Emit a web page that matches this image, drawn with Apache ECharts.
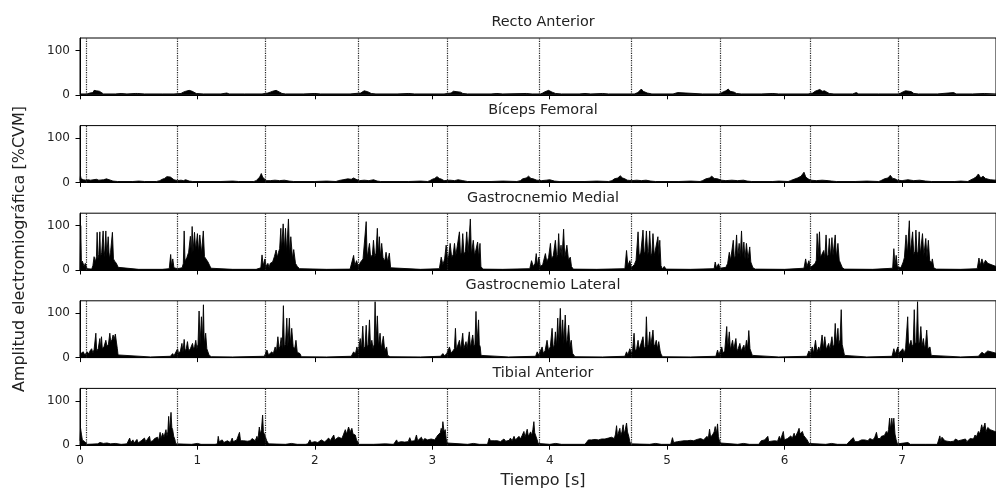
<!DOCTYPE html>
<html>
<head>
<meta charset="utf-8">
<script src="https://cdn.jsdelivr.net/npm/echarts@6/dist/echarts.min.js"></script>
<style>
  html, body { margin: 0; padding: 0; background: #fff; }
  #chart { width: 996px; height: 488px; }
</style>
</head>
<body>
<div id="chart"></div>
<script>
// EMG rectificado (% CVM), pares [tiempo s, amplitud]
const musculos = ['Recto Anterior', 'Bíceps Femoral', 'Gastrocnemio Medial', 'Gastrocnemio Lateral', 'Tibial Anterior']

// contactos de talon (lineas punteadas)
const eventos = [0.053, 0.828, 1.581, 2.367, 3.134, 3.912, 4.69, 5.448, 6.217, 6.97]

const xTicks = [0, 1, 2, 3, 4, 5, 6, 7]
const yTicks = [0, 100]

const rectoAnterior = [
  [0,2],[0.06,2],[0.085,4],[0.1,8],[0.11,5],[0.12,10],[0.13,6],[0.14,9],[0.155,7],[0.165,8],[0.18,4],[0.2,2],
  [0.3,2],[0.35,3],[0.4,2],[0.47,3],[0.48,6],[0.49,3],[0.55,2],[0.7,2],[0.8,2],
  [0.86,3],[0.88,6],[0.9,8],[0.915,7],[0.93,10],[0.945,13],[0.955,8],[0.97,7],[0.99,3],[1.05,2],
  [1.2,2],[1.25,4],[1.27,2],[1.4,2],[1.55,2],
  [1.6,4],[1.62,6],[1.64,8],[1.655,7],[1.67,10],[1.685,9],[1.7,6],[1.72,3],[1.75,2],
  [1.9,2],[2.0,3],[2.05,2],[2.3,2],
  [2.39,4],[2.405,7],[2.42,9],[2.435,11],[2.45,7],[2.465,8],[2.48,3],[2.52,2],
  [2.7,2],[2.8,3],[2.85,2],[3.1,2],
  [3.16,4],[3.18,8],[3.195,11],[3.21,7],[3.225,9],[3.24,6],[3.26,3],[3.3,2],
  [3.5,2],[3.55,3],[3.6,2],[3.8,3],[3.85,2],[3.92,2],
  [3.94,4],[3.96,7],[3.975,8],[3.99,10],[4.005,9],[4.02,6],[4.05,3],[4.1,2],
  [4.25,2],[4.3,3],[4.35,2],[4.45,3],[4.5,2],[4.72,2],
  [4.75,5],[4.765,9],[4.78,13],[4.795,8],[4.81,10],[4.83,4],[4.87,2],
  [5.05,2],[5.09,5],[5.1,2],[5.3,2],[5.44,2],
  [5.46,4],[5.48,7],[5.5,9],[5.52,13],[5.535,8],[5.55,10],[5.57,6],[5.59,3],[5.63,2],
  [5.8,2],[5.9,3],[5.95,2],[6.2,2],
  [6.24,4],[6.26,8],[6.28,10],[6.3,12],[6.32,8],[6.34,9],[6.36,6],[6.38,3],[6.42,2],
  [6.58,2],[6.61,5],[6.63,2],[6.8,2],[6.97,2],
  [6.99,4],[7.01,7],[7.03,9],[7.045,12],[7.06,8],[7.08,7],[7.1,3],[7.14,2],
  [7.3,2],[7.44,5],[7.46,2],[7.6,2],[7.7,3],[7.8,2]
]

const bicepsFemoral = [
  [0,5],[0.004,15],[0.01,8],[0.03,6],[0.05,5],[0.07,6],[0.09,5],[0.1,6],[0.14,7],[0.16,5],[0.2,6],[0.21,10],[0.225,8],[0.24,6],[0.26,5],[0.28,3],[0.32,2],
  [0.45,2],[0.5,3],[0.55,2],[0.65,2],
  [0.68,4],[0.7,7],[0.72,9],[0.74,13],[0.755,10],[0.77,12],[0.785,9],[0.8,6],[0.83,4],[0.86,5],[0.88,4],[0.9,6],[0.93,3],[0.96,2],
  [1.2,2],[1.3,3],[1.35,2],[1.48,2],
  [1.5,4],[1.515,8],[1.53,12],[1.544,20],[1.555,12],[1.57,9],[1.585,4],[1.62,4],[1.66,5],[1.7,4],[1.74,5],[1.78,3],[1.82,2],
  [2.0,2],[2.1,3],[2.18,2],
  [2.2,4],[2.24,6],[2.28,8],[2.31,7],[2.33,10],[2.35,7],[2.38,4],[2.42,5],[2.46,4],[2.5,6],[2.53,3],[2.56,2],
  [2.8,2],[2.9,3],[2.96,2],
  [2.98,4],[3.0,7],[3.02,9],[3.04,13],[3.06,9],[3.08,7],[3.1,4],[3.15,5],[3.19,4],[3.22,6],[3.26,4],[3.3,2],
  [3.5,2],[3.6,3],[3.72,2],
  [3.75,4],[3.77,8],[3.8,10],[3.82,14],[3.84,9],[3.86,8],[3.89,5],[3.93,4],[3.97,5],[4.0,6],[4.04,3],[4.08,2],
  [4.3,2],[4.4,3],[4.5,2],
  [4.53,4],[4.55,8],[4.58,10],[4.6,15],[4.62,10],[4.64,8],[4.66,5],[4.7,4],[4.74,5],[4.78,4],[4.82,5],[4.86,3],[4.9,2],
  [5.1,2],[5.2,3],[5.28,2],
  [5.3,4],[5.33,8],[5.36,10],[5.38,14],[5.4,9],[5.43,8],[5.46,5],[5.5,4],[5.55,5],[5.6,4],[5.65,5],[5.68,3],[5.72,2],
  [5.9,2],[5.95,3],[6.03,2],
  [6.05,4],[6.08,7],[6.11,10],[6.14,14],[6.165,23],[6.18,12],[6.2,8],[6.22,5],[6.27,4],[6.32,5],[6.37,4],[6.4,3],[6.44,2],
  [6.6,2],[6.7,3],[6.8,2],
  [6.82,4],[6.85,8],[6.88,10],[6.9,16],[6.92,9],[6.94,8],[6.96,5],[7.0,4],[7.05,6],[7.1,4],[7.15,5],[7.2,3],[7.25,2],
  [7.45,2],[7.5,3],[7.56,2],
  [7.58,5],[7.61,9],[7.63,12],[7.65,19],[7.67,10],[7.69,14],[7.71,9],[7.75,6],[7.8,5]
]

const gastroMedial = [
  [0,0],[0.006,100],[0.012,15],[0.02,20],[0.035,8],[0.045,15],[0.06,3],[0.1,2],
  [0.11,10],[0.12,30],[0.13,18],[0.14,30],[0.146,85],[0.152,25],[0.16,35],[0.169,86],[0.175,28],[0.185,40],[0.197,88],[0.205,30],[0.212,45],[0.22,88],[0.228,30],[0.24,75],[0.25,25],[0.26,40],[0.276,85],[0.285,25],[0.295,20],[0.31,15],[0.325,6],[0.34,2],
  [0.5,1.5],[0.7,1.5],[0.76,3],[0.772,35],[0.78,8],[0.79,25],[0.8,5],[0.83,3],[0.87,5],
  [0.88,15],[0.887,88],[0.894,20],[0.91,28],[0.925,40],[0.94,76],[0.948,35],[0.955,98],[0.962,40],[0.975,85],[0.985,45],[1.0,82],[1.01,40],[1.02,79],[1.035,38],[1.05,88],[1.06,30],[1.075,28],[1.09,18],[1.105,15],[1.115,4],[1.13,2],
  [1.3,1.5],[1.5,1.5],[1.54,5],[1.55,34],[1.56,10],[1.575,25],[1.585,8],[1.6,15],[1.61,5],
  [1.62,15],[1.64,18],[1.655,30],[1.67,45],[1.68,28],[1.69,40],[1.7,48],[1.71,94],[1.717,45],[1.73,104],[1.74,45],[1.75,94],[1.76,40],[1.775,115],[1.785,35],[1.795,75],[1.81,25],[1.82,46],[1.835,15],[1.85,8],[1.87,3],
  [2.1,1.5],[2.3,2],[2.33,33],[2.34,10],[2.355,21],[2.37,8],[2.38,12],
  [2.39,18],[2.41,25],[2.425,28],[2.437,109],[2.445,28],[2.455,32],[2.465,60],[2.475,28],[2.49,35],[2.499,67],[2.51,30],[2.52,38],[2.532,94],[2.54,35],[2.549,75],[2.558,30],[2.569,60],[2.58,28],[2.595,20],[2.606,40],[2.62,18],[2.634,38],[2.645,5],[2.66,2],
  [2.9,1.5],[3.06,3],[3.076,29],[3.09,12],[3.105,25],[3.118,56],[3.13,22],[3.14,32],[3.152,60],[3.165,28],[3.178,35],[3.189,60],[3.2,32],[3.215,36],[3.231,86],[3.24,35],[3.25,40],[3.259,82],[3.27,35],[3.282,42],[3.293,86],[3.305,38],[3.315,42],[3.324,115],[3.333,35],[3.349,67],[3.36,32],[3.375,35],[3.386,63],[3.395,28],[3.406,60],[3.414,8],[3.43,2],
  [3.6,1.5],[3.83,3],[3.845,21],[3.86,8],[3.875,15],[3.885,37],[3.895,10],[3.907,29],[3.92,8],[3.94,12],[3.963,37],[3.975,18],[3.99,28],[4.006,60],[4.015,25],[4.03,32],[4.048,67],[4.06,28],[4.068,35],[4.076,82],[4.085,32],[4.096,56],[4.105,30],[4.118,92],[4.128,28],[4.146,56],[4.16,22],[4.175,29],[4.185,8],[4.2,2],
  [4.4,1.5],[4.64,3],[4.654,44],[4.665,10],[4.682,21],[4.695,5],[4.72,12],[4.735,22],[4.752,86],[4.762,32],[4.775,38],[4.794,90],[4.805,35],[4.812,42],[4.823,88],[4.835,35],[4.842,42],[4.851,88],[4.862,32],[4.87,38],[4.879,82],[4.89,32],[4.905,35],[4.921,75],[4.93,32],[4.937,67],[4.947,10],[4.96,2],[4.975,8],[4.99,2],
  [5.2,1.5],[5.4,3],[5.409,18],[5.42,5],[5.437,14],[5.45,4],[5.5,6],[5.515,15],[5.529,40],[5.54,22],[5.55,25],[5.563,67],[5.572,25],[5.58,32],[5.591,79],[5.6,28],[5.613,60],[5.622,28],[5.633,88],[5.642,28],[5.653,63],[5.663,25],[5.675,60],[5.688,25],[5.703,52],[5.712,18],[5.72,21],[5.73,5],[5.75,2],
  [6.0,1.5],[6.165,4],[6.179,25],[6.19,8],[6.207,21],[6.22,6],[6.24,10],[6.26,15],[6.27,22],[6.277,82],[6.285,28],[6.297,86],[6.305,28],[6.32,32],[6.333,44],[6.343,28],[6.353,79],[6.362,28],[6.372,35],[6.381,71],[6.39,28],[6.403,73],[6.412,32],[6.42,35],[6.431,79],[6.44,28],[6.454,60],[6.465,22],[6.482,25],[6.492,5],[6.51,2],
  [6.75,1.5],[6.92,4],[6.93,48],[6.94,10],[6.95,33],[6.96,8],[6.99,5],[7.01,18],[7.02,28],[7.034,79],[7.045,35],[7.062,111],[7.07,38],[7.08,42],[7.09,86],[7.1,35],[7.11,42],[7.118,90],[7.128,35],[7.137,42],[7.146,86],[7.155,35],[7.165,38],[7.174,82],[7.185,32],[7.202,71],[7.212,28],[7.224,67],[7.235,22],[7.25,15],[7.258,25],[7.27,5],[7.29,2],
  [7.5,1.5],[7.64,3],[7.655,27],[7.665,10],[7.68,25],[7.695,12],[7.71,22],[7.73,15],[7.8,8]
]

const gastroLateral = [
  [0,5],[0.01,10],[0.028,13],[0.04,6],[0.05,10],[0.062,13],[0.075,8],[0.085,15],[0.099,20],[0.11,10],[0.12,18],[0.135,55],[0.142,15],[0.155,20],[0.169,43],[0.175,20],[0.183,47],[0.19,20],[0.205,25],[0.22,39],[0.23,25],[0.242,30],[0.254,55],[0.262,35],[0.272,40],[0.282,51],[0.29,40],[0.301,53],[0.31,35],[0.318,20],[0.324,6],[0.34,2],
  [0.6,1.5],[0.77,3],[0.789,9],[0.8,4],[0.815,8],[0.831,20],[0.84,8],[0.855,15],[0.868,32],[0.877,12],[0.887,41],[0.895,15],[0.905,20],[0.915,36],[0.925,15],[0.94,20],[0.958,32],[0.968,18],[0.976,25],[0.986,39],[0.995,20],[1.005,30],[1.014,105],[1.022,30],[1.034,92],[1.042,35],[1.051,119],[1.058,30],[1.07,55],[1.08,20],[1.093,24],[1.1,5],[1.12,2],
  [1.3,1.5],[1.57,3],[1.592,17],[1.605,6],[1.62,10],[1.634,13],[1.645,8],[1.662,24],[1.672,12],[1.685,47],[1.695,20],[1.703,25],[1.713,45],[1.722,20],[1.732,117],[1.74,25],[1.75,30],[1.761,89],[1.77,25],[1.783,89],[1.79,30],[1.803,66],[1.815,25],[1.828,20],[1.839,39],[1.85,12],[1.865,8],[1.873,9],[1.885,2],
  [2.1,1.5],[2.31,3],[2.33,13],[2.345,8],[2.358,24],[2.37,12],[2.386,43],[2.396,18],[2.408,71],[2.417,20],[2.427,25],[2.437,73],[2.446,22],[2.455,30],[2.465,85],[2.474,25],[2.485,39],[2.495,20],[2.505,30],[2.513,126],[2.52,30],[2.532,94],[2.542,25],[2.555,55],[2.565,20],[2.583,48],[2.595,15],[2.611,24],[2.62,5],[2.64,2],
  [2.9,1.5],[3.07,3],[3.09,9],[3.105,4],[3.125,10],[3.146,24],[3.16,10],[3.175,15],[3.188,20],[3.197,66],[3.205,18],[3.218,22],[3.231,39],[3.242,18],[3.259,55],[3.268,20],[3.287,36],[3.297,20],[3.315,58],[3.325,22],[3.344,51],[3.355,25],[3.363,30],[3.372,104],[3.38,30],[3.394,85],[3.4,30],[3.408,24],[3.415,5],[3.43,2],
  [3.65,1.5],[3.88,3],[3.893,13],[3.905,6],[3.92,10],[3.935,24],[3.945,10],[3.96,15],[3.977,39],[3.99,15],[4.005,25],[4.02,66],[4.03,20],[4.04,30],[4.048,58],[4.058,25],[4.068,89],[4.077,30],[4.09,111],[4.1,35],[4.11,85],[4.12,30],[4.132,96],[4.142,30],[4.15,40],[4.161,73],[4.172,25],[4.183,39],[4.193,10],[4.203,9],[4.215,2],
  [4.45,1.5],[4.64,3],[4.654,13],[4.665,6],[4.682,20],[4.695,10],[4.705,15],[4.718,55],[4.727,15],[4.74,20],[4.752,39],[4.762,18],[4.775,22],[4.794,47],[4.805,20],[4.815,25],[4.823,92],[4.832,25],[4.842,30],[4.851,58],[4.86,25],[4.879,62],[4.888,25],[4.898,30],[4.907,39],[4.917,20],[4.928,36],[4.94,15],[4.947,8],[4.96,2],
  [5.2,1.5],[5.415,3],[5.429,17],[5.44,6],[5.455,10],[5.465,24],[5.475,10],[5.49,15],[5.507,70],[5.515,20],[5.529,58],[5.538,18],[5.557,39],[5.567,18],[5.585,43],[5.595,15],[5.605,20],[5.619,32],[5.63,15],[5.645,18],[5.653,28],[5.663,15],[5.675,39],[5.685,20],[5.695,61],[5.705,20],[5.717,24],[5.725,5],[5.74,2],
  [5.95,1.5],[6.19,3],[6.207,15],[6.22,8],[6.235,24],[6.247,10],[6.263,39],[6.275,12],[6.291,24],[6.302,15],[6.319,51],[6.33,20],[6.342,47],[6.355,18],[6.375,32],[6.385,18],[6.403,47],[6.413,22],[6.422,30],[6.431,77],[6.44,30],[6.454,66],[6.462,30],[6.472,40],[6.482,108],[6.49,30],[6.501,32],[6.51,5],[6.525,2],
  [6.7,1.5],[6.915,3],[6.93,20],[6.942,8],[6.964,24],[6.975,10],[6.99,12],[7.006,20],[7.018,10],[7.03,20],[7.048,92],[7.056,22],[7.065,25],[7.076,39],[7.086,25],[7.095,30],[7.104,108],[7.112,30],[7.122,35],[7.132,126],[7.14,30],[7.15,35],[7.16,70],[7.17,25],[7.182,43],[7.192,20],[7.2,30],[7.21,62],[7.22,20],[7.238,24],[7.248,5],[7.265,2],
  [7.5,1.5],[7.65,3],[7.68,12],[7.7,8],[7.73,15],[7.8,10]
]

const tibialAnterior = [
  [0,10],[0.005,38],[0.012,25],[0.02,12],[0.028,12],[0.04,8],[0.05,5],[0.06,2],[0.15,3],[0.17,6],[0.2,4],[0.23,5],[0.26,3],[0.3,4],[0.35,2],
  [0.4,3],[0.408,8],[0.423,16],[0.433,6],[0.451,12],[0.46,5],[0.475,9],[0.485,13],[0.495,5],[0.51,8],[0.521,10],[0.535,6],[0.549,16],[0.56,8],[0.575,12],[0.592,20],[0.6,8],[0.61,12],[0.62,10],[0.635,15],[0.648,12],[0.66,18],[0.67,10],[0.682,29],[0.69,15],[0.704,27],[0.715,18],[0.725,22],[0.732,35],[0.74,20],[0.748,30],[0.755,65],[0.762,30],[0.775,74],[0.782,40],[0.789,35],[0.798,20],[0.808,13],[0.815,3],[0.83,2],
  [0.95,2],[1.0,4],[1.03,2],[1.15,2],
  [1.17,3],[1.177,20],[1.185,8],[1.2,10],[1.211,12],[1.225,6],[1.24,8],[1.255,10],[1.268,9],[1.28,6],[1.296,16],[1.305,8],[1.32,10],[1.335,12],[1.345,10],[1.358,29],[1.367,10],[1.38,12],[1.394,10],[1.41,14],[1.425,9],[1.437,13],[1.45,10],[1.465,15],[1.479,12],[1.492,10],[1.507,20],[1.515,12],[1.527,41],[1.535,25],[1.545,35],[1.555,68],[1.562,30],[1.57,25],[1.577,20],[1.59,10],[1.606,3],[1.62,2],
  [1.75,2],[1.8,4],[1.85,2],[1.92,2],
  [1.94,3],[1.958,12],[1.97,6],[1.985,10],[2.0,8],[2.014,12],[2.025,6],[2.04,9],[2.055,12],[2.07,10],[2.085,7],[2.1,12],[2.118,16],[2.13,10],[2.145,14],[2.161,23],[2.17,12],[2.185,15],[2.2,18],[2.217,20],[2.23,15],[2.245,25],[2.259,35],[2.27,25],[2.287,41],[2.3,30],[2.315,38],[2.325,25],[2.335,28],[2.344,23],[2.355,12],[2.363,8],[2.375,2],
  [2.5,2],[2.6,3],[2.67,2],
  [2.682,3],[2.696,12],[2.705,6],[2.72,9],[2.735,8],[2.752,12],[2.765,7],[2.78,10],[2.795,8],[2.808,17],[2.82,9],[2.835,12],[2.85,10],[2.865,23],[2.875,10],[2.89,14],[2.907,18],[2.92,10],[2.935,15],[2.949,18],[2.96,12],[2.975,16],[2.99,14],[3.006,18],[3.02,12],[3.035,18],[3.048,23],[3.06,20],[3.068,28],[3.076,38],[3.083,30],[3.09,53],[3.1,30],[3.11,35],[3.118,15],[3.124,5],[3.14,2],
  [3.3,2],[3.35,4],[3.4,2],[3.47,2],
  [3.479,3],[3.485,16],[3.495,10],[3.51,12],[3.527,10],[3.54,7],[3.555,10],[3.569,12],[3.58,8],[3.595,12],[3.61,14],[3.625,9],[3.64,13],[3.655,11],[3.665,16],[3.68,10],[3.696,20],[3.708,12],[3.72,16],[3.738,20],[3.75,14],[3.765,22],[3.78,31],[3.79,18],[3.808,36],[3.818,20],[3.828,25],[3.837,30],[3.847,22],[3.856,35],[3.865,53],[3.872,28],[3.885,27],[3.893,12],[3.901,4],[3.915,2],
  [4.0,2],[4.05,4],[4.1,2],[4.3,2],
  [4.315,3],[4.329,12],[4.34,8],[4.355,12],[4.37,9],[4.386,13],[4.4,9],[4.415,12],[4.43,10],[4.442,14],[4.455,10],[4.47,14],[4.485,12],[4.499,16],[4.51,12],[4.525,18],[4.541,20],[4.55,15],[4.56,25],[4.569,44],[4.577,20],[4.587,30],[4.597,38],[4.605,22],[4.615,30],[4.625,46],[4.633,25],[4.643,35],[4.654,50],[4.662,30],[4.673,20],[4.682,8],[4.69,3],[4.7,2],
  [4.85,2],[4.9,4],[4.95,2],[5.03,2],
  [5.04,3],[5.045,17],[5.055,6],[5.07,9],[5.087,8],[5.1,10],[5.115,9],[5.13,12],[5.143,10],[5.158,12],[5.17,10],[5.185,13],[5.199,11],[5.212,14],[5.225,10],[5.24,12],[5.255,13],[5.27,11],[5.285,15],[5.297,14],[5.31,12],[5.325,16],[5.339,20],[5.35,15],[5.361,36],[5.37,18],[5.381,22],[5.39,25],[5.4,30],[5.409,42],[5.418,25],[5.429,48],[5.436,20],[5.443,12],[5.452,5],[5.46,2],
  [5.6,2],[5.65,4],[5.7,2],[5.78,2],
  [5.793,3],[5.801,10],[5.815,8],[5.83,12],[5.845,10],[5.857,20],[5.865,8],[5.875,10],[5.885,9],[5.9,12],[5.915,10],[5.927,14],[5.94,9],[5.955,20],[5.965,12],[5.978,15],[5.989,31],[5.998,12],[6.011,10],[6.025,15],[6.04,12],[6.053,21],[6.065,15],[6.081,27],[6.09,18],[6.1,22],[6.112,30],[6.123,38],[6.132,25],[6.14,28],[6.151,31],[6.162,22],[6.179,20],[6.192,12],[6.207,4],[6.22,2],
  [6.35,2],[6.4,4],[6.45,2],[6.53,2],
  [6.543,3],[6.557,10],[6.57,8],[6.585,17],[6.598,8],[6.613,12],[6.625,8],[6.64,11],[6.655,12],[6.668,9],[6.682,12],[6.697,14],[6.71,10],[6.725,15],[6.739,13],[6.752,12],[6.768,18],[6.782,29],[6.792,15],[6.805,18],[6.815,15],[6.824,20],[6.835,18],[6.85,22],[6.866,31],[6.875,25],[6.885,35],[6.894,61],[6.903,35],[6.913,61],[6.92,40],[6.93,61],[6.94,25],[6.95,12],[6.96,3],[6.975,2],
  [7.05,6],[7.07,2],[7.2,2],[7.3,2],
  [7.314,3],[7.322,21],[7.33,8],[7.34,18],[7.356,20],[7.365,10],[7.375,12],[7.384,9],[7.395,10],[7.41,8],[7.426,12],[7.44,9],[7.455,14],[7.468,16],[7.48,10],[7.495,13],[7.51,12],[7.525,10],[7.54,14],[7.552,8],[7.565,12],[7.58,15],[7.594,18],[7.608,14],[7.622,23],[7.632,18],[7.642,25],[7.65,31],[7.66,25],[7.67,35],[7.678,46],[7.688,35],[7.697,42],[7.706,50],[7.715,30],[7.73,40],[7.75,35],[7.8,30]
]

const senales = [rectoAnterior, bicepsFemoral, gastroMedial, gastroLateral, tibialAnterior]

const chart = echarts.init(document.getElementById('chart'))

const FONT = 'DejaVu Sans'
const TOP0 = 38
const PASO = 87.6
const ALTO = 56.8

const grids = []
const xAxes = []
const yAxes = []
const series = []
const graphics = []

musculos.forEach((nombre, i) => {
  const top = TOP0 + i * PASO
  grids.push({
    left: 80, right: -10, top: top, height: ALTO,
    show: true, borderColor: '#000', borderWidth: 1
  })
  xAxes.push({
    gridIndex: i, type: 'value', min: 0, max: 7.8,
    axisLine: { show: true, lineStyle: { color: '#000', width: 1 } },
    axisTick: { show: true, length: 4.5, customValues: xTicks, lineStyle: { color: '#000' } },
    axisLabel: {
      show: i === musculos.length - 1, customValues: xTicks, margin: 10,
      color: '#222', fontSize: 12, fontFamily: FONT
    },
    splitLine: { show: false }
  })
  yAxes.push({
    gridIndex: i, type: 'value', min: 0, max: 128,
    axisLine: { show: true, lineStyle: { color: '#000', width: 1 } },
    axisTick: { show: true, length: 4.5, customValues: yTicks, lineStyle: { color: '#000' } },
    axisLabel: {
      customValues: yTicks, margin: 10,
      color: '#222', fontSize: 12, fontFamily: FONT
    },
    splitLine: { show: false }
  })
  series.push({
    type: 'line',
    xAxisIndex: i, yAxisIndex: i,
    data: senales[i],
    showSymbol: false,
    sampling: null,
    lineStyle: { color: '#000', width: 0.9 },
    areaStyle: { color: '#000', opacity: 1 },
    markLine: {
      silent: true,
      symbol: ['none', 'none'],
      label: { show: false },
      lineStyle: { color: '#222', type: 'dotted', width: 1.2 },
      data: eventos.map(t => ({ xAxis: t }))
    }
  })
  // titulo de cada subgrafico
  graphics.push({
    type: 'text', x: 543, y: top - 15.3,
    style: {
      text: nombre, fill: '#222', fontSize: 14.4, fontFamily: FONT,
      align: 'center', verticalAlign: 'middle',
      textAlign: 'center', textVerticalAlign: 'middle'
    }
  })
})

// nombres de ejes
graphics.push({
  type: 'text', x: 543, y: 481,
  style: {
    text: 'Tiempo [s]', fill: '#222', fontSize: 16, fontFamily: FONT,
    align: 'center', verticalAlign: 'middle', textAlign: 'center', textVerticalAlign: 'middle'
  }
})
graphics.push({
  type: 'text', x: 20, y: 249, rotation: Math.PI / 2,
  style: {
    text: 'Amplitud electromiográfica [%CVM]', fill: '#222', fontSize: 16, fontFamily: FONT,
    align: 'center', verticalAlign: 'middle', textAlign: 'center', textVerticalAlign: 'middle'
  }
})

chart.setOption({
  animation: false,
  backgroundColor: '#fff',
  grid: grids,
  xAxis: xAxes,
  yAxis: yAxes,
  series: series,
  graphic: graphics
})
</script>
</body>
</html>
